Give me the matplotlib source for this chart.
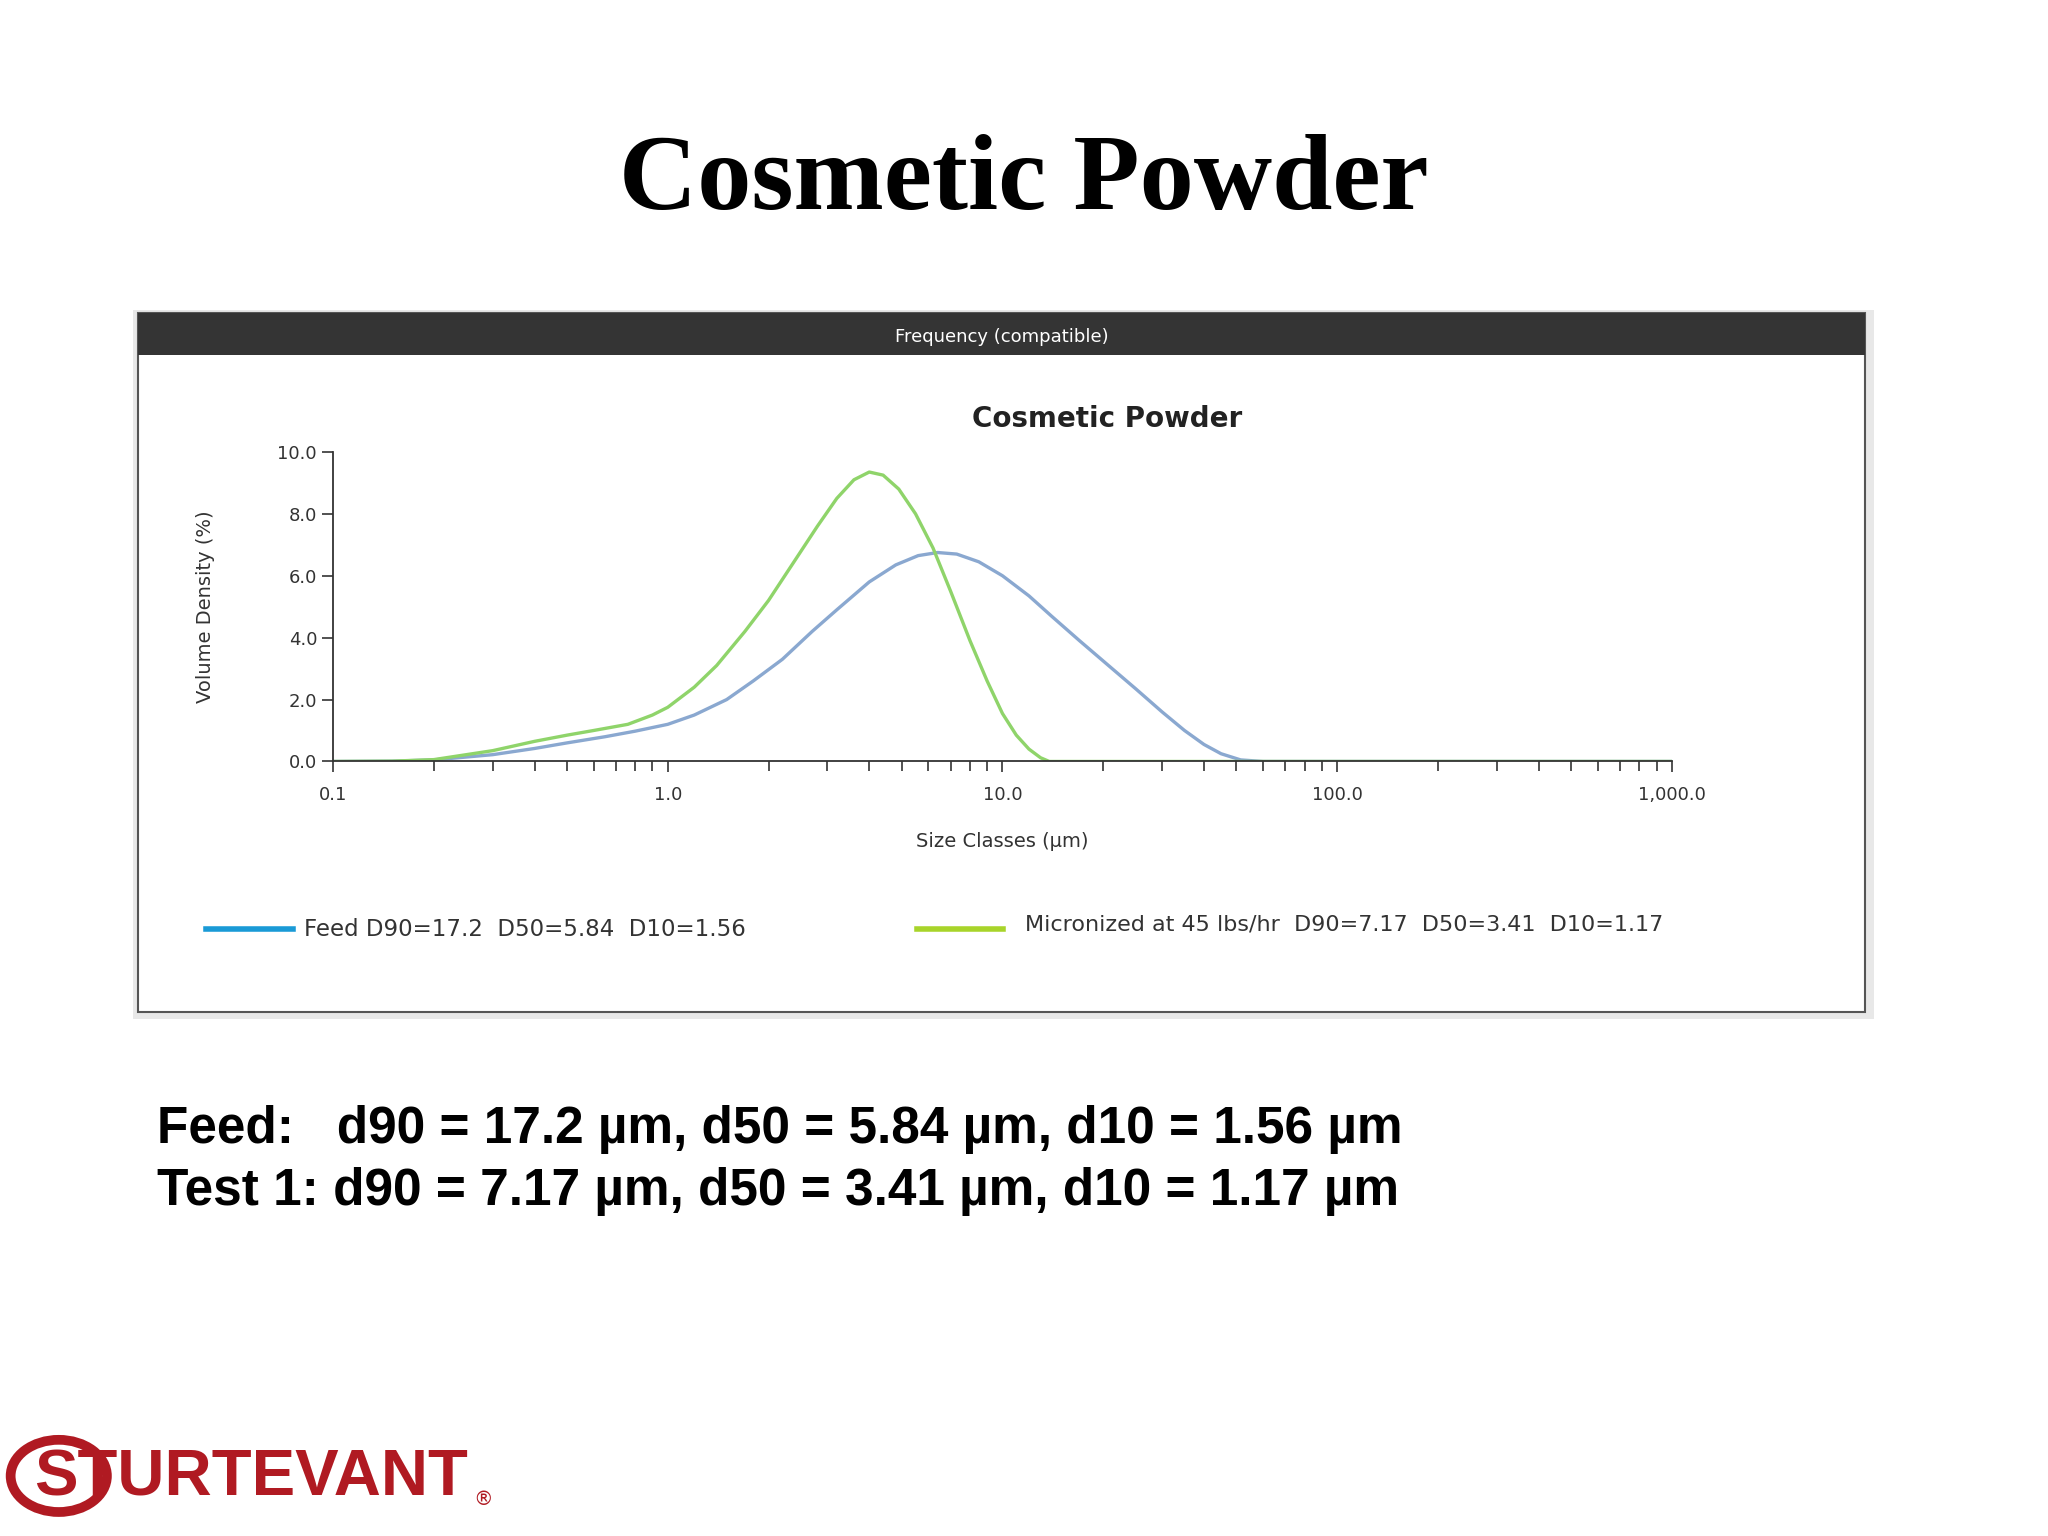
import matplotlib
matplotlib.use("Agg")
import matplotlib.pyplot as plt
from matplotlib.patches import Rectangle, Circle
import numpy as np

feed_x = [0.1, 0.15, 0.2, 0.3, 0.4, 0.5, 0.65, 0.8, 1.0, 1.2, 1.5, 1.8, 2.2, 2.7, 3.2, 4.0, 4.8, 5.6, 6.4, 7.3, 8.5, 10.0, 12.0, 14.0, 17.0, 21.0, 25.0, 30.0, 35.0, 40.0, 45.0, 51.5, 60.0, 100.0, 1000.0]
feed_y = [0.0, 0.01, 0.05, 0.22, 0.42, 0.6, 0.8, 0.98, 1.2, 1.5, 2.0, 2.6, 3.3, 4.2, 4.9, 5.8, 6.35, 6.65, 6.75, 6.7, 6.45, 6.0, 5.35, 4.7, 3.9, 3.05, 2.35, 1.6, 1.0, 0.55, 0.25, 0.05, 0.0, 0.0, 0.0]
micro_x = [0.1, 0.15, 0.2, 0.3, 0.4, 0.5, 0.6, 0.76, 0.9, 1.0, 1.2, 1.4, 1.7, 2.0, 2.4, 2.8, 3.2, 3.6, 4.0, 4.4, 4.9, 5.5, 6.2, 7.0, 8.0, 9.0, 10.0, 11.0, 12.0, 13.0, 13.8, 100.0, 1000.0]
micro_y = [0.0, 0.01, 0.06, 0.35, 0.65, 0.85, 1.0, 1.2, 1.5, 1.75, 2.4, 3.1, 4.2, 5.2, 6.5, 7.6, 8.5, 9.1, 9.35, 9.25, 8.8, 8.0, 6.9, 5.5, 3.9, 2.6, 1.55, 0.85, 0.4, 0.12, 0.0, 0.0, 0.0]
xticks = [0.1, 1, 10, 100, 1000]
xtick_labels = ["0.1", "1.0", "10.0", "100.0", "1,000.0"]
yticks = [0, 2, 4, 6, 8, 10]
ytick_labels = ["0.0", "2.0", "4.0", "6.0", "8.0", "10.0"]
feed_label = "Feed D90=17.2  D50=5.84  D10=1.56"
micro_label = "Micronized at 45 lbs/hr  D90=7.17  D50=3.41  D10=1.17"

W, H = 1568.0, 1176.0
def fx(x): return x / W
def fy(y): return 1 - y / H

fig = plt.figure(figsize=(20.48, 15.36), dpi=100)
fig.patch.set_facecolor("white")

fig.text(fx(784), fy(140), "Cosmetic Powder", ha="center", va="center",
         family="Liberation Serif", weight="bold", fontsize=78)

fig.patches.append(Rectangle((fx(102), fy(780)), fx(1435 - 102), (780 - 237) / H,
                             transform=fig.transFigure, facecolor="#e8e8e8", edgecolor="none", zorder=0))
fig.patches.append(Rectangle((fx(106), fy(775)), fx(1428 - 106), (775 - 240) / H,
                             transform=fig.transFigure, facecolor="white", edgecolor="#555555", lw=1.5, zorder=1))
fig.patches.append(Rectangle((fx(106), fy(272)), fx(1428 - 106), (272 - 240) / H,
                             transform=fig.transFigure, facecolor="#343434", edgecolor="none", zorder=2))
fig.text(fx(767), fy(258), "Frequency (compatible)", ha="center", va="center",
         color="white", fontsize=13, zorder=3)

ax = fig.add_axes([fx(255), fy(583), fx(1280 - 255), (583 - 346) / H])
ax.set_zorder(5)
ax.patch.set_alpha(0)
ax.plot(feed_x, feed_y, color="#8aa8d0", lw=2.4)
ax.plot(micro_x, micro_y, color="#8fd46a", lw=2.4)
ax.set_xscale("log")
ax.set_xlim(0.1, 1000)
ax.set_ylim(0, 10)
ax.set_xticks(xticks)
ax.set_xticklabels(xtick_labels, fontsize=13, color="#333333")
ax.set_yticks(yticks)
ax.set_yticklabels(ytick_labels, fontsize=13, color="#333333")
ax.tick_params(axis="both", which="major", length=8, width=1.2, color="#333333")
ax.tick_params(axis="x", which="major", pad=10)
ax.tick_params(axis="x", which="minor", length=7, width=1.2, color="#333333")
for s in ["top", "right"]:
    ax.spines[s].set_visible(False)
for s in ["left", "bottom"]:
    ax.spines[s].set_color("#333333")
    ax.spines[s].set_linewidth(1.3)
ax.set_xlabel("Size Classes (\u00b5m)", fontsize=14, color="#333333", labelpad=20)
ax.set_ylabel("Volume Density (%)", fontsize=14, color="#333333", labelpad=45)
ax.set_title("Cosmetic Powder", fontsize=20, weight="bold", color="#222222", pad=18, x=0.578)

fig.lines.append(plt.Line2D([fx(158), fx(224)], [fy(711), fy(711)], transform=fig.transFigure,
                            color="#1a9ad6", lw=4))
fig.text(fx(233), fy(712), feed_label, va="center", fontsize=16.5, color="#333333")
fig.lines.append(plt.Line2D([fx(702), fx(768)], [fy(711), fy(711)], transform=fig.transFigure,
                            color="#a8d42a", lw=4))
fig.text(fx(785), fy(708), micro_label, va="center", fontsize=16, color="#333333")

fig.text(fx(120), fy(865), "Feed:   d90 = 17.2 \u00b5m, d50 = 5.84 \u00b5m, d10 = 1.56 \u00b5m",
         va="center", family="Liberation Sans", weight="bold", fontsize=37)
fig.text(fx(120), fy(912), "Test 1: d90 = 7.17 \u00b5m, d50 = 3.41 \u00b5m, d10 = 1.17 \u00b5m",
         va="center", family="Liberation Sans", weight="bold", fontsize=37)

red = "#b01a22"
fig.patches.append(Circle((fx(45), fy(1130)), 0.0235, transform=fig.transFigure,
                          facecolor="none", edgecolor=red, lw=7))
fig.text(fx(26), fy(1132), "STURTEVANT", va="center", family="Liberation Sans",
         weight="bold", fontsize=47, color=red)
fig.text(fx(362), fy(1148), "\u00ae", va="center", fontsize=14, color=red)

fig.savefig("out.png", dpi=100)
